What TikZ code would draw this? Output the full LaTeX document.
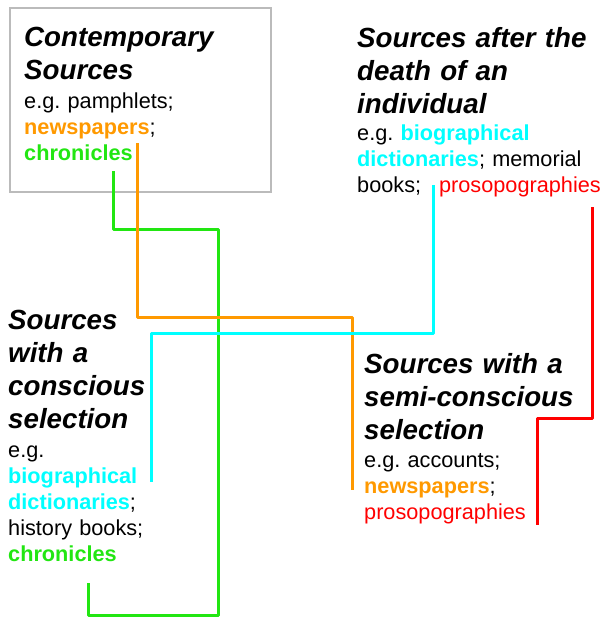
\documentclass[tikz,border=0pt]{standalone}
\usepackage{fontspec}
\setmainfont{Liberation Sans}
\frenchspacing
\definecolor{newsorange}{HTML}{FF9900}
\definecolor{chrongreen}{HTML}{22E612}
\definecolor{biocyan}{HTML}{00FFFF}
\definecolor{prosred}{HTML}{FF0000}
\definecolor{boxgray}{HTML}{BBBBBB}
\newcommand{\news}{\textcolor{newsorange}{\bfseries newspapers}}
\newcommand{\chron}{\textcolor{chrongreen}{\bfseries chronicles}}
\newcommand{\bio}[1]{\textcolor{biocyan}{\bfseries #1}}
\newcommand{\pros}{\textcolor{prosred}{prosopographies}}
\begin{document}
\begin{tikzpicture}[x=1pt, y=-1pt,
    heading/.style={anchor=base west, inner sep=0, text width=250, align=left,
      font=\bfseries\itshape\fontsize{27.7}{33}\selectfont},
    examples/.style={anchor=base west, inner sep=0, text width=250, align=left,
      font=\fontsize{21.7}{26}\selectfont},
    link/.style={line width=3pt, line join=round}]
    \useasboundingbox (0,0) rectangle (605,621);
    % frame round the contemporary sources
    \draw[boxgray, line width=1.4pt] (10,8) rectangle (271,192);

    % the four groups of sources
    \node (contemp-head) [heading] at (24,46) {Contemporary\\Sources};
    \node (contemp-list) [examples] at (24,108) {e.g. pamphlets;\\\news;\\\chron};

    \node (death-head) [heading] at (357,47) {Sources after the\\death of an\\individual};
    \node (death-list) [examples] at (357,140) {e.g. \bio{biographical}\\\bio{dictionaries}; memorial\\books;\hspace{18pt}\pros};

    \node (consc-head) [heading] at (8,329) {Sources\\with a\\conscious\\selection};
    \node (consc-list) [examples] at (8,457) {e.g.\\\bio{biographical}\\\bio{dictionaries};\\history books;\\\chron};

    \node (semi-head) [heading] at (364,373) {Sources with a\\semi-conscious\\selection};
    \node (semi-list) [examples] at (364,467) {e.g. accounts;\\\news;\\\pros};

    % ends of the links
    \coordinate (chron-a) at (113,171);
    \coordinate (chron-b) at (88,583);
    \coordinate (news-a) at (137,143);
    \coordinate (news-b) at (352,490);
    \coordinate (bio-a) at (433,185);
    \coordinate (bio-b) at (151,482);
    \coordinate (pros-a) at (592,207);
    \coordinate (pros-b) at (537,525);

    \draw[link, chrongreen] (chron-a) -- ++(0,58) -| (218,615) -| (chron-b);
    \draw[link, newsorange] (news-a) -- ++(0,174) -| (news-b);
    \draw[link, biocyan] (bio-a) -- ++(0,148) -| (bio-b);
    \draw[link, prosred] (pros-a) -- ++(0,211) -| (pros-b);
\end{tikzpicture}
\end{document}
